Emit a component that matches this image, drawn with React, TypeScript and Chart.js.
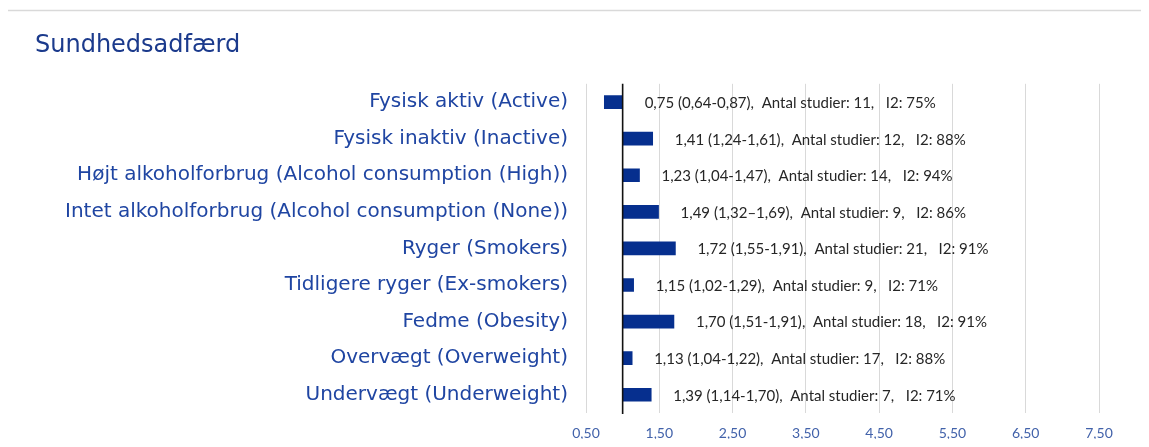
import React, { useEffect, useRef } from "react";
import { Chart, registerables } from "chart.js";

Chart.register(...registerables);

const title = "Sundhedsadfærd";
const categories = [
  "Fysisk aktiv (Active)",
  "Fysisk inaktiv (Inactive)",
  "Højt alkoholforbrug (Alcohol consumption (High))",
  "Intet alkoholforbrug (Alcohol consumption (None))",
  "Ryger (Smokers)",
  "Tidligere ryger (Ex-smokers)",
  "Fedme (Obesity)",
  "Overvægt (Overweight)",
  "Undervægt (Underweight)",
];
const estimates = [0.75, 1.41, 1.23, 1.49, 1.72, 1.15, 1.7, 1.13, 1.39];
const ciLabels = [
  "0,64-0,87",
  "1,24-1,61",
  "1,04-1,47",
  "1,32\u20131,69",
  "1,55-1,91",
  "1,02-1,29",
  "1,51-1,91",
  "1,04-1,22",
  "1,14-1,70",
];
const studies = [11, 12, 14, 9, 21, 9, 18, 17, 7];
const i2 = [75, 88, 94, 86, 91, 71, 91, 88, 71];
const baseline = 1;
const xTicks = [0.5, 1.5, 2.5, 3.5, 4.5, 5.5, 6.5, 7.5];

const fmt = (v: number) => v.toFixed(2).replace(".", ",");
const labelTexts = estimates.map(
  (v, i) => `${fmt(v)} (${ciLabels[i]}),  Antal studier: ${studies[i]},   I2: ${i2[i]}%`
);

const framePlugin = {
  id: "frame",
  beforeDraw(chart: any) {
    const { ctx, width, height } = chart;
    ctx.save();
    ctx.fillStyle = "#ffffff";
    ctx.fillRect(0, 0, width, height);
    ctx.strokeStyle = "#D9D9D9";
    ctx.lineWidth = 1.5;
    ctx.beginPath();
    ctx.moveTo(6.5, height);
    ctx.lineTo(6.5, 10.5);
    ctx.lineTo(width, 10.5);
    ctx.stroke();
    ctx.restore();
  },
};

const overlayPlugin = {
  id: "overlay",
  afterDatasetsDraw(chart: any) {
    const { ctx, chartArea, scales } = chart;
    const xs = scales.x;
    const x0 = xs.getPixelForValue(baseline);
    ctx.save();
    ctx.strokeStyle = "#111111";
    ctx.lineWidth = 1.6;
    ctx.beginPath();
    ctx.moveTo(x0, chartArea.top);
    ctx.lineTo(x0, chartArea.bottom + 1);
    ctx.stroke();
    const meta = chart.getDatasetMeta(0);
    ctx.font = "15px Lato";
    ctx.fillStyle = "#262626";
    ctx.textAlign = "left";
    ctx.textBaseline = "middle";
    meta.data.forEach((bar: any, i: number) => {
      const xEnd = xs.getPixelForValue(Math.max(estimates[i], baseline));
      ctx.fillText(labelTexts[i], xEnd + 22, bar.y + 1);
    });
    ctx.restore();
  },
};

export default function App() {
  const ref = useRef<HTMLCanvasElement>(null);
  useEffect(() => {
    if (!ref.current) return;
    const chart = new Chart(ref.current, {
      type: "bar",
      data: {
        labels: categories,
        datasets: [
          {
            data: estimates.map((v) => [baseline, v]) as any,
            backgroundColor: "#062F8E",
            borderWidth: 0,
            barThickness: 13,
          },
        ],
      },
      options: {
        indexAxis: "y",
        animation: false,
        responsive: false,
        maintainAspectRatio: false,
        layout: { padding: { top: 21, left: 35, right: 50, bottom: 5 } },
        plugins: {
          legend: { display: false },
          tooltip: { enabled: false },
          title: {
            display: true,
            text: title,
            align: "start",
            color: "#1B3A8C",
            font: { family: "DejaVu Sans", size: 24, weight: "normal" },
            padding: { top: 10, bottom: 24 },
          },
        },
        scales: {
          x: {
            min: 0.5,
            max: 7.5,
            afterBuildTicks: (scale: any) => {
              scale.ticks = xTicks.map((v) => ({ value: v }));
            },
            afterFit: (scale: any) => {
              scale.height = 29;
            },
            grid: { color: "#D9D9D9", lineWidth: 1, drawTicks: false },
            border: { display: false },
            ticks: {
              color: "#4262AA",
              font: { family: "Lato", size: 14 },
              padding: 12,
              callback: (v: any) => fmt(Number(v)),
            },
          },
          y: {
            grid: { display: false, drawTicks: false },
            border: { display: false },
            afterFit: (scale: any) => {
              scale.width = 551;
            },
            ticks: {
              color: "#1F45A2",
              font: { family: "DejaVu Sans", size: 20 },
              padding: 18,
            },
          },
        },
      },
      plugins: [framePlugin, overlayPlugin],
    });
    return () => chart.destroy();
  }, []);
  return (
    <div style={{ position: "relative", width: 1149, height: 447, margin: -8, overflow: "hidden", background: "#fff" }}>
      <canvas ref={ref} width={1149} height={447} style={{ position: "absolute", left: 0, top: 0 }} />
    </div>
  );
}
